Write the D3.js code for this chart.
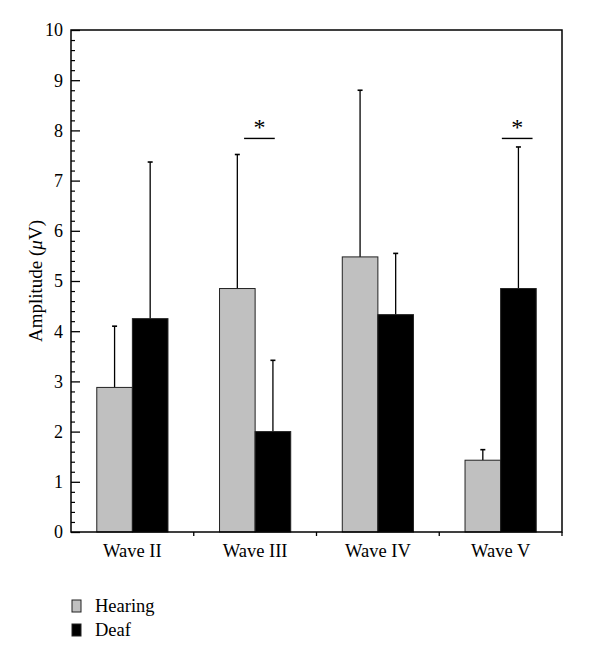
<!DOCTYPE html>
<html><head><meta charset="utf-8">
<script src="https://cdnjs.cloudflare.com/ajax/libs/d3/7.8.5/d3.min.js"></script>
<style>body{margin:0;background:#fff}svg{display:block}text{font-family:"Liberation Serif","DejaVu Serif",serif;fill:#000}</style>
</head><body><svg id="c" width="600" height="661"></svg>
<script>
const categories = ["Wave II","Wave III","Wave IV","Wave V"];
const seriesNames = ["Hearing","Deaf"];
const hearingMean = [2.88, 4.85, 5.48, 1.43];
const hearingErr  = [4.10, 7.52, 8.80, 1.64];
const deafMean    = [4.25, 2.00, 4.33, 4.85];
const deafErr     = [7.37, 3.42, 5.55, 7.67];
const yTicks = [0,1,2,3,4,5,6,7,8,9,10];
// significance brackets: category, start/end as fraction of band, value level
const sigs = [{cat:"Wave III", a:0.41, b:0.66, v:7.84},{cat:"Wave V", a:0.51, b:0.76, v:7.84}];

const colors = ["#c0c0c0","#000000"];
const svg = d3.select("#c");
const m = {l:71, r:562, t:30, b:532};
const x = d3.scaleBand().domain(categories).range([m.l, m.r]).paddingInner(0.42).paddingOuter(0.21);
const xs = d3.scaleBand().domain(seriesNames).range([0, x.bandwidth()]);
const y = d3.scaleLinear().domain([0,10]).range([m.b, m.t]);
const xb = d3.scaleBand().domain(categories).range([m.l, m.r]);

const series = [
  {name:"Hearing", mean:hearingMean, err:hearingErr},
  {name:"Deaf", mean:deafMean, err:deafErr}
];

// error bars first (behind bars)
series.forEach((s,si)=>{
  categories.forEach((c,i)=>{
    const cx = x(c)+xs(s.name)+xs.bandwidth()/2;
    svg.append("line").attr("x1",cx).attr("x2",cx).attr("y1",y(s.mean[i])).attr("y2",y(s.err[i]))
      .attr("stroke","#000").attr("stroke-width",1.3);
    svg.append("line").attr("x1",cx-2.5).attr("x2",cx+2.5).attr("y1",y(s.err[i])).attr("y2",y(s.err[i]))
      .attr("stroke","#000").attr("stroke-width",1.6);
  });
});
series.forEach((s,si)=>{
  svg.append("g").selectAll("rect").data(categories).join("rect")
    .attr("x",c=>x(c)+xs(s.name)).attr("width",xs.bandwidth())
    .attr("y",(c,i)=>y(s.mean[i])).attr("height",(c,i)=>y(0)-y(s.mean[i]))
    .attr("fill",colors[si]).attr("stroke","#222").attr("stroke-width",1);
});

// frame
svg.append("rect").attr("x",m.l).attr("y",m.t).attr("width",m.r-m.l).attr("height",m.b-m.t)
  .attr("fill","none").attr("stroke","#000").attr("stroke-width",1.5);

// y axis ticks: major inward, minor inward
const yAxis = d3.axisRight(y).tickValues(yTicks).tickSize(9).tickFormat("");
const gy = svg.append("g").attr("transform",`translate(${m.l},0)`).call(yAxis);
gy.select(".domain").remove();
gy.selectAll("line").attr("stroke","#000").attr("stroke-width",1.3);
const minor = d3.range(0,50).map(d=>d/5).filter(v=>Math.abs(v-Math.round(v))>1e-6);
const gym = svg.append("g").attr("transform",`translate(${m.l},0)`).call(d3.axisRight(y).tickValues(minor).tickSize(4).tickFormat(""));
gym.select(".domain").remove();
gym.selectAll("line").attr("stroke","#000").attr("stroke-width",1.2);
svg.append("g").selectAll("text").data(yTicks).join("text")
  .attr("x",m.l-8).attr("y",d=>y(d)).attr("dy","0.35em").attr("text-anchor","end")
  .attr("font-size",18).text(d=>d);

// x axis ticks at band boundaries, outward
const bounds = categories.slice(1).map(c=>xb(c)).concat([m.r]);
svg.append("g").selectAll("line").data(bounds).join("line")
  .attr("x1",d=>d).attr("x2",d=>d).attr("y1",m.b).attr("y2",m.b+4).attr("stroke","#000").attr("stroke-width",1.3);
svg.append("g").selectAll("text").data(categories).join("text")
  .attr("x",c=>xb(c)+xb.bandwidth()/2).attr("y",557).attr("text-anchor","middle")
  .attr("font-size",18.5).text(d=>d);

// y label
const yl = svg.append("text").attr("transform",`translate(42,${(m.t+m.b)/2}) rotate(-90)`)
  .attr("text-anchor","middle").attr("font-size",19);
yl.append("tspan").text("Amplitude (");
yl.append("tspan").attr("font-style","italic").text("μ");
yl.append("tspan").text("V)");

// significance
sigs.forEach(s=>{
  const x1 = xb(s.cat)+s.a*xb.bandwidth(), x2 = xb(s.cat)+s.b*xb.bandwidth();
  svg.append("line").attr("x1",x1).attr("x2",x2).attr("y1",y(s.v)).attr("y2",y(s.v)).attr("stroke","#000").attr("stroke-width",1.4);
  svg.append("text").attr("x",(x1+x2)/2).attr("y",y(s.v)-3).attr("text-anchor","middle").attr("font-size",24).attr("font-weight",300).text("*");
});

// legend
const lg = svg.append("g");
seriesNames.forEach((n,i)=>{
  lg.append("rect").attr("x",72).attr("y",600+i*24).attr("width",9).attr("height",12)
    .attr("fill",colors[i]).attr("stroke","#222").attr("stroke-width",1);
  lg.append("text").attr("x",95).attr("y",612+i*23.5).attr("font-size",18.5).text(n);
});
</script></body></html>
